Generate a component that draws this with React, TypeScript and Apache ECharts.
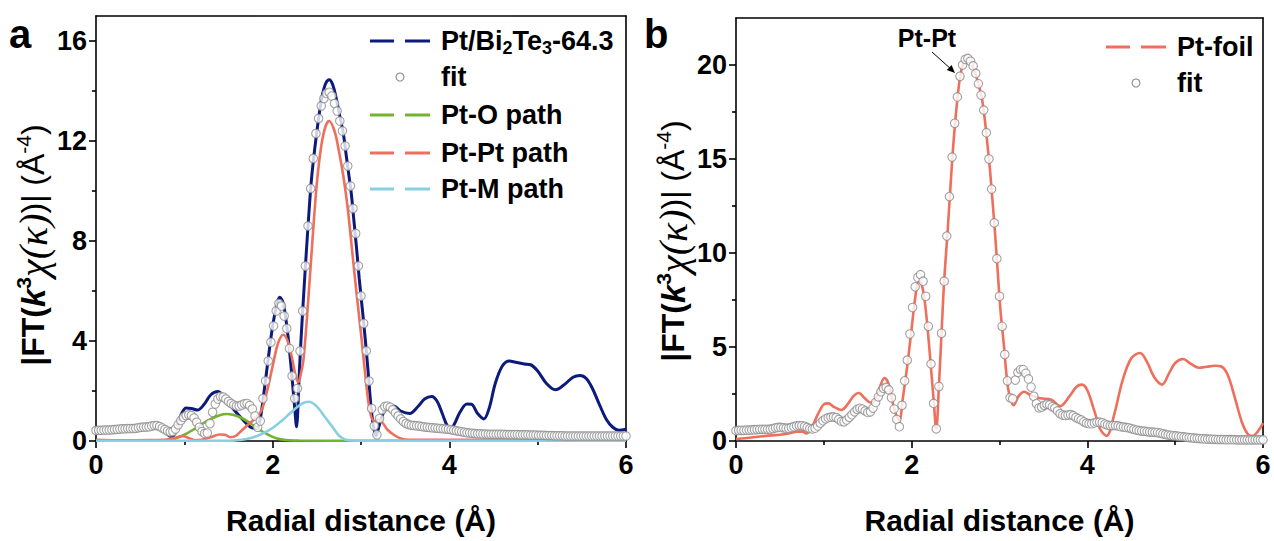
import { useEffect, useRef } from "react";
import * as echarts from "echarts";

// ---------- data ----------
const R_STEP = 0.03; // spacing of the fit points along R (Å)

// Panel a: fit points (one value per R_STEP, R = 0 … 6)
const fitA = [
  0.42, 0.43, 0.43, 0.44, 0.44, 0.44, 0.45, 0.46, 0.47, 0.48,
  0.49, 0.49, 0.5, 0.5, 0.5, 0.51, 0.53, 0.55, 0.56, 0.56,
  0.57, 0.6, 0.62, 0.62, 0.58, 0.52, 0.46, 0.4, 0.36, 0.38,
  0.48, 0.65, 0.82, 0.95, 1.02, 1.05, 1.02, 0.92, 0.75, 0.55,
  0.38, 0.3, 0.32, 0.7, 1.15, 1.48, 1.68, 1.78, 1.76, 1.68,
  1.58, 1.5, 1.44, 1.4, 1.4, 1.44, 1.49, 1.5, 1.42, 1.28,
  1.0, 0.55, 0.8, 1.7, 2.4, 3.2, 3.95, 4.6, 5.2, 5.5,
  5.4, 5.0, 4.5, 3.7, 2.6, 1.7, 2.1, 3.6, 5.2, 7.0,
  8.6, 10.1, 11.3, 12.3, 12.9, 13.4, 13.7, 13.9, 13.95, 13.8,
  13.5, 13.2, 12.8, 12.4, 11.8, 11.0, 10.2, 9.3, 8.3, 7.0,
  5.8, 4.7, 3.6, 2.4, 1.3, 0.6, 0.25, 0.9, 1.25, 1.38,
  1.4, 1.35, 1.25, 1.12, 1.0, 0.88, 0.78, 0.7, 0.66, 0.63,
  0.62, 0.61, 0.6, 0.58, 0.56, 0.55, 0.54, 0.53, 0.52, 0.51,
  0.5, 0.49, 0.48, 0.47, 0.45, 0.43, 0.41, 0.39, 0.37, 0.35,
  0.33, 0.32, 0.31, 0.3, 0.29, 0.29, 0.28, 0.28, 0.27, 0.27,
  0.27, 0.27, 0.27, 0.27, 0.27, 0.26, 0.26, 0.26, 0.26, 0.26,
  0.25, 0.25, 0.25, 0.25, 0.24, 0.24, 0.24, 0.23, 0.23, 0.23,
  0.22, 0.22, 0.22, 0.21, 0.21, 0.21, 0.21, 0.2, 0.2, 0.2,
  0.2, 0.2, 0.2, 0.2, 0.2, 0.2, 0.2, 0.2, 0.2, 0.2,
  0.2, 0.2, 0.2, 0.2, 0.2, 0.2, 0.2, 0.2, 0.2, 0.2,
  0.2,
];

// Panel b: fit points
const fitB = [
  0.55, 0.56, 0.57, 0.57, 0.58, 0.58, 0.59, 0.6, 0.61, 0.62,
  0.62, 0.62, 0.62, 0.63, 0.66, 0.7, 0.72, 0.72, 0.7, 0.68,
  0.68, 0.72, 0.76, 0.8, 0.82, 0.81, 0.78, 0.72, 0.66, 0.64,
  0.68, 0.8, 0.95, 1.08, 1.18, 1.24, 1.27, 1.28, 1.25, 1.15,
  1.04, 1.02, 1.12, 1.26, 1.4, 1.55, 1.68, 1.74, 1.7, 1.6,
  1.52, 1.55, 1.75, 2.05, 2.35, 2.62, 2.8, 2.85, 2.72, 2.3,
  1.7, 1.15, 0.76, 1.9, 3.2, 4.3, 5.69, 7.1, 8.2, 8.7,
  8.85, 8.5, 7.7, 6.1, 4.1, 2.0, 0.65, 2.9, 5.73, 8.5,
  10.9, 13.0, 15.1, 16.9, 18.3, 19.4, 20.0, 20.3, 20.35, 20.2,
  19.95, 19.55, 19.0, 18.4, 17.6, 16.4, 15.0, 13.4, 11.6, 9.7,
  7.7, 6.1, 4.6, 3.2, 2.3, 2.25, 3.24, 3.65, 3.8, 3.8,
  3.6, 3.3, 2.87, 2.38, 1.99, 1.76, 1.8, 1.9, 1.95, 1.92,
  1.82, 1.75, 1.6, 1.45, 1.38, 1.36, 1.38, 1.4, 1.35, 1.25,
  1.18, 1.12, 1.02, 0.95, 0.92, 0.92, 0.96, 1.0, 1.0, 0.97,
  0.9, 0.85, 0.82, 0.82, 0.82, 0.8, 0.76, 0.74, 0.72, 0.7,
  0.66, 0.62, 0.58, 0.55, 0.53, 0.52, 0.5, 0.48, 0.47, 0.46,
  0.45, 0.42, 0.38, 0.35, 0.32, 0.3, 0.28, 0.27, 0.25, 0.24,
  0.22, 0.2, 0.18, 0.17, 0.15, 0.14, 0.13, 0.12, 0.11, 0.1,
  0.1, 0.09, 0.09, 0.08, 0.08, 0.08, 0.07, 0.07, 0.07, 0.07,
  0.06, 0.06, 0.06, 0.06, 0.06, 0.06, 0.06, 0.06, 0.06, 0.06,
  0.06,
];

// Panel a: measured Pt/Bi2Te3-64.3 spectrum [R, |FT|]
const sampleA: [number, number][] = [
  [0, 0.45], [0.1, 0.45], [0.2, 0.45], [0.3, 0.5], [0.4, 0.5], [0.5, 0.55], [0.6, 0.65],
  [0.67, 0.7], [0.75, 0.5], [0.8, 0.3], [0.86, 0.15], [0.92, 0.6], [0.97, 1.1], [1.02, 1.32],
  [1.08, 1.3], [1.15, 1.24], [1.22, 1.45], [1.3, 1.85], [1.38, 1.98], [1.45, 1.75], [1.55, 1.3],
  [1.65, 0.9], [1.75, 0.55], [1.82, 0.5], [1.86, 0.9], [1.9, 1.9], [1.95, 3.3], [2.0, 4.6],
  [2.05, 5.5], [2.08, 5.75], [2.12, 5.5], [2.17, 4.3], [2.21, 2.9], [2.25, 1.3], [2.27, 0.57],
  [2.3, 2.6], [2.32, 4.0], [2.35, 5.8], [2.38, 7.5], [2.41, 9.1], [2.44, 10.5], [2.48, 11.8],
  [2.52, 12.9], [2.56, 13.8], [2.6, 14.3], [2.64, 14.45], [2.68, 14.25], [2.72, 13.7],
  [2.76, 13.0], [2.8, 12.3], [2.83, 11.5], [2.86, 10.7], [2.89, 9.9], [2.92, 8.8], [2.95, 7.7],
  [2.98, 6.5], [3.02, 5.1], [3.05, 4.0], [3.08, 2.8], [3.11, 1.5], [3.14, 0.6], [3.17, 0.2],
  [3.2, 0.55], [3.25, 1.1], [3.3, 1.35], [3.37, 1.4], [3.45, 1.2], [3.55, 1.1], [3.65, 1.4],
  [3.72, 1.68], [3.8, 1.78], [3.86, 1.6], [3.92, 1.1], [3.97, 0.65], [4.01, 0.45], [4.06, 0.7],
  [4.12, 1.15], [4.2, 1.48], [4.25, 1.47], [4.32, 1.1], [4.39, 0.88], [4.45, 1.3], [4.52, 2.3],
  [4.6, 3.0], [4.68, 3.2], [4.75, 3.15], [4.85, 3.08], [4.92, 3.05], [5.0, 2.8], [5.1, 2.3],
  [5.2, 2.05], [5.3, 2.25], [5.4, 2.55], [5.48, 2.62], [5.55, 2.5], [5.62, 2.1], [5.7, 1.45],
  [5.78, 0.85], [5.85, 0.55], [5.92, 0.43], [6.0, 0.47],
];

// Panel a: Pt-O path
const pathPtO: [number, number][] = [
  [0, 0.02], [0.8, 0.02], [0.9, 0.1], [1.0, 0.25], [1.1, 0.45], [1.2, 0.68], [1.3, 0.88],
  [1.4, 1.03], [1.48, 1.08], [1.56, 1.04], [1.65, 0.92], [1.75, 0.7], [1.85, 0.45], [1.95, 0.25],
  [2.05, 0.1], [2.15, 0.04], [2.3, 0.02], [3.0, 0.01], [6.0, 0.01],
];

// Panel a: Pt-Pt path
const pathPtPt: [number, number][] = [
  [0, 0.05], [0.3, 0.03], [0.6, 0.04], [0.8, 0.06], [0.88, 0.12], [0.98, 0.2], [1.05, 0.12],
  [1.12, 0.03], [1.2, 0.05], [1.3, 0.15], [1.4, 0.26], [1.46, 0.25], [1.52, 0.15], [1.58, 0.2],
  [1.65, 0.42], [1.72, 0.65], [1.8, 0.9], [1.87, 1.2], [1.93, 1.9], [2.0, 3.0], [2.06, 3.9],
  [2.12, 4.25], [2.17, 4.0], [2.22, 3.3], [2.26, 2.6], [2.29, 2.35], [2.32, 2.7], [2.35, 3.3],
  [2.4, 5.5], [2.45, 8.0], [2.5, 10.3], [2.55, 11.8], [2.6, 12.6], [2.64, 12.8], [2.7, 12.4],
  [2.75, 11.6], [2.8, 10.6], [2.85, 9.3], [2.9, 7.6], [2.95, 5.9], [3.0, 4.3], [3.05, 2.6],
  [3.1, 1.2], [3.15, 0.8], [3.2, 0.87], [3.25, 0.7], [3.3, 0.45], [3.37, 0.25], [3.45, 0.1],
  [3.55, 0.05], [6.0, 0.04],
];

// Panel a: Pt-M path
const pathPtM: [number, number][] = [
  [0, 0.01], [1.5, 0.01], [1.6, 0.03], [1.7, 0.08], [1.8, 0.17], [1.9, 0.32], [2.0, 0.52],
  [2.1, 0.8], [2.2, 1.12], [2.3, 1.42], [2.36, 1.54], [2.41, 1.57], [2.46, 1.5], [2.52, 1.3],
  [2.6, 0.92], [2.68, 0.55], [2.75, 0.22], [2.82, 0.06], [2.9, 0.02], [3.0, 0.01], [6.0, 0.01],
];

// Panel b: Pt-foil spectrum
const foilB: [number, number][] = [
  [0, 0.1], [0.1, 0.15], [0.2, 0.2], [0.3, 0.25], [0.4, 0.3], [0.5, 0.33], [0.6, 0.4],
  [0.7, 0.5], [0.76, 0.5], [0.8, 0.4], [0.86, 0.7], [0.93, 1.4], [1.0, 1.95], [1.05, 2.0],
  [1.12, 1.8], [1.2, 1.65], [1.27, 1.95], [1.34, 2.4], [1.4, 2.55], [1.46, 2.3], [1.53, 2.05],
  [1.58, 2.15], [1.64, 2.9], [1.69, 3.35], [1.74, 3.0], [1.79, 1.9], [1.83, 1.3], [1.86, 1.1],
  [1.9, 2.3], [1.95, 4.0], [2.0, 6.0], [2.04, 7.6], [2.08, 8.5], [2.11, 8.4], [2.15, 7.4],
  [2.2, 5.0], [2.25, 2.2], [2.28, 0.62], [2.31, 2.9], [2.34, 5.73], [2.37, 8.5], [2.41, 11.2],
  [2.44, 13.4], [2.47, 15.5], [2.5, 17.2], [2.53, 18.6], [2.56, 19.6], [2.6, 20.2], [2.64, 20.3],
  [2.68, 20.1], [2.72, 19.6], [2.76, 19.0], [2.8, 18.2], [2.83, 17.2], [2.86, 15.9], [2.89, 14.5],
  [2.92, 12.8], [2.95, 11.0], [2.98, 9.0], [3.01, 7.0], [3.05, 5.1], [3.08, 3.5], [3.11, 2.5],
  [3.16, 1.9], [3.22, 2.4], [3.28, 2.62], [3.35, 2.45], [3.46, 2.27], [3.59, 2.2], [3.69, 1.86],
  [3.8, 2.4], [3.88, 2.9], [3.94, 3.0], [4.0, 2.7], [4.08, 1.6], [4.15, 0.6], [4.22, 0.27],
  [4.3, 1.3], [4.4, 3.2], [4.5, 4.4], [4.6, 4.68], [4.68, 4.2], [4.76, 3.4], [4.85, 3.0],
  [4.93, 3.6], [5.0, 4.15], [5.09, 4.36], [5.18, 4.1], [5.27, 3.9], [5.36, 3.95], [5.45, 4.0],
  [5.53, 3.95], [5.6, 3.5], [5.68, 2.3], [5.76, 1.0], [5.83, 0.35], [5.88, 0.27], [5.94, 0.5],
  [6.0, 0.95],
];

// ticks
const xTicks = [0, 2, 4, 6];
const xMinor = [1, 3, 5];
const yTicksA = [0, 4, 8, 12, 16];
const yMinorA = [2, 6, 10, 14];
const yTicksB = [0, 5, 10, 15, 20];
const yMinorB = [2.5, 7.5, 12.5, 17.5];

// labels
const legendA = ["{n|Pt/Bi}{s|2}{n|Te}{s|3}{n|-64.3}", "fit", "Pt-O path", "Pt-Pt path", "Pt-M path"];
const legendB = ["Pt-foil", "fit"];
const xTitle = "Radial distance (Å)";
const yTitle = "{b||FT(}{bi|k}{sup|3}{m|χ(κ)}{n|)| (Å}{sup2|-4}{n|)}";

// ---------- styling ----------
const FONT = "'Liberation Sans', Arial, sans-serif";
const NAVY = "#0b1a7c";
const SALMON = "#ee6f5c";
const GREEN = "#74b32c";
const CYAN = "#88cfe2";
const CIRCLE = "#8a8a8a";

const fitPairs = (vals: number[]) =>
  vals.map((v, i) => [Math.round(i * R_STEP * 100) / 100, v]);

const labelStyle = { fontFamily: FONT, fontWeight: "bold", fontSize: 27, color: "#000" };
const black = { color: "#000", width: 1.6 };

function axes(grid: number, yMax: number, yTicks: number[], yMinor: number[], yInterval: number) {
  const xMain = {
    type: "value", gridIndex: grid, min: 0, max: 6, interval: 2,
    axisLine: { show: true, onZero: false, lineStyle: black },
    axisTick: { show: true, length: 7, lineStyle: black, customValues: xTicks },
    axisLabel: { ...labelStyle, margin: 10, customValues: xTicks },
    splitLine: { show: false },
    name: xTitle, nameLocation: "middle", nameGap: 64,
    nameTextStyle: { fontFamily: FONT, fontWeight: "bold", fontSize: 30, color: "#000" },
  };
  const xMin = {
    type: "value", gridIndex: grid, min: 0, max: 6, position: "bottom",
    axisLine: { show: false },
    axisTick: { show: true, length: 4, lineStyle: black, customValues: xMinor },
    axisLabel: { show: false }, splitLine: { show: false },
  };
  const xTop = {
    type: "value", gridIndex: grid, min: 0, max: 6, position: "top",
    axisLine: { show: true, onZero: false, lineStyle: black },
    axisTick: { show: false }, axisLabel: { show: false }, splitLine: { show: false },
  };
  const yMain = {
    type: "value", gridIndex: grid, min: 0, max: yMax, interval: yInterval,
    axisLine: { show: true, onZero: false, lineStyle: black },
    axisTick: { show: true, length: 7, lineStyle: black, customValues: yTicks },
    axisLabel: { ...labelStyle, margin: 9, customValues: yTicks },
    splitLine: { show: false },
  };
  const yMin = {
    type: "value", gridIndex: grid, min: 0, max: yMax, position: "left",
    axisLine: { show: false },
    axisTick: { show: true, length: 4, lineStyle: black, customValues: yMinor },
    axisLabel: { show: false }, splitLine: { show: false },
  };
  const yRight = {
    type: "value", gridIndex: grid, min: 0, max: yMax, position: "right",
    axisLine: { show: true, onZero: false, lineStyle: black },
    axisTick: { show: false }, axisLabel: { show: false }, splitLine: { show: false },
  };
  return { x: [xMain, xMin, xTop], y: [yMain, yMin, yRight] };
}

const lineSeries = (name: string, data: any, color: string, xi: number, yi: number, width = 2.6, z = 2) => ({
  name, type: "line", data, xAxisIndex: xi, yAxisIndex: yi, smooth: 0.35,
  showSymbol: false, symbol: "none", lineStyle: { color, width }, itemStyle: { color }, z,
});

const scatterSeries = (name: string, data: any, xi: number, yi: number) => ({
  name, type: "scatter", data, xAxisIndex: xi, yAxisIndex: yi, symbol: "circle", symbolSize: 8.5,
  itemStyle: { color: "#fff", borderColor: CIRCLE, borderWidth: 1.1 }, z: 5,
});

const legendRich = {
  n: { fontFamily: FONT, fontWeight: "bold", fontSize: 27, color: "#000", lineHeight: 32 },
  s: { fontFamily: FONT, fontWeight: "bold", fontSize: 18, color: "#000", lineHeight: 18, verticalAlign: "bottom" },
};

function legendItem(x: number, y: number, label: string, kind: "line" | "dot", color: string) {
  const els: any[] = [];
  if (kind === "line") {
    els.push({ type: "line", shape: { x1: x, y1: y, x2: x + 24, y2: y }, style: { stroke: color, lineWidth: 3 } });
    els.push({ type: "line", shape: { x1: x + 35, y1: y, x2: x + 60, y2: y }, style: { stroke: color, lineWidth: 3 } });
  } else {
    els.push({ type: "circle", shape: { cx: x + 30, cy: y, r: 4 }, style: { fill: "#fff", stroke: CIRCLE, lineWidth: 1.1 } });
  }
  const text = label.startsWith("{") ? label : `{n|${label}}`;
  els.push({
    type: "text", x: x + 71, y,
    style: { text, rich: legendRich, align: "left", verticalAlign: "middle" },
  });
  return els;
}

const yTitleRich = {
  b: { fontFamily: FONT, fontWeight: "bold", fontSize: 32, color: "#000", lineHeight: 40 },
  bi: { fontFamily: FONT, fontWeight: "bold", fontStyle: "italic", fontSize: 33, color: "#000", lineHeight: 40 },
  sup: { fontFamily: FONT, fontWeight: "bold", fontSize: 21, color: "#000", lineHeight: 21, verticalAlign: "top" },
  sup2: { fontFamily: FONT, fontSize: 21, color: "#000", lineHeight: 21, verticalAlign: "top" },
  m: { fontFamily: "'Liberation Serif', serif", fontStyle: "italic", fontSize: 40, color: "#000", lineHeight: 40 },
  n: { fontFamily: FONT, fontSize: 32, color: "#000", lineHeight: 40 },
};

export default function App() {
  const ref = useRef<HTMLDivElement>(null);

  useEffect(() => {
    if (!ref.current) return;
    const chart = echarts.init(ref.current, undefined, { renderer: "svg" });

    const a = axes(0, 17, yTicksA, yMinorA, 4);
    const b = axes(1, 22.5, yTicksB, yMinorB, 5);

    const arrowTip = [955, 73];
    const graphic: any[] = [
      { type: "text", x: 9, y: 34, style: { text: "a", fontFamily: FONT, fontWeight: "bold", fontSize: 40, fill: "#000", align: "left", verticalAlign: "middle" } },
      { type: "text", x: 644, y: 34, style: { text: "b", fontFamily: FONT, fontWeight: "bold", fontSize: 40, fill: "#000", align: "left", verticalAlign: "middle" } },
      { type: "text", x: 33, y: 245, rotation: Math.PI / 2, style: { text: yTitle, rich: yTitleRich, align: "center", verticalAlign: "middle" } },
      { type: "text", x: 673, y: 241, rotation: Math.PI / 2, style: { text: yTitle, rich: yTitleRich, align: "center", verticalAlign: "middle" } },
      { type: "text", x: 927, y: 38, style: { text: "Pt-Pt", fontFamily: FONT, fontWeight: "bold", fontSize: 25, fill: "#000", align: "center", verticalAlign: "middle" } },
      { type: "line", shape: { x1: 932, y1: 52, x2: arrowTip[0] - 3, y2: arrowTip[1] - 3 }, style: { stroke: "#000", lineWidth: 1 } },
      { type: "polygon", shape: { points: [[arrowTip[0], arrowTip[1]], [946.8, 70.0], [951.6, 65.0]] }, style: { fill: "#000" } },
      ...legendItem(370, 41, legendA[0], "line", NAVY),
      ...legendItem(370, 77, legendA[1], "dot", CIRCLE),
      ...legendItem(370, 115, legendA[2], "line", GREEN),
      ...legendItem(370, 153, legendA[3], "line", SALMON),
      ...legendItem(370, 189, legendA[4], "line", CYAN),
      ...legendItem(1106, 47, legendB[0], "line", SALMON),
      ...legendItem(1106, 83, legendB[1], "dot", CIRCLE),
    ];

    chart.setOption({
      animation: false,
      backgroundColor: "#fff",
      grid: [
        { left: 96, top: 16, width: 530, height: 425, containLabel: false, outerBoundsMode: "none" },
        { left: 736, top: 18, width: 527, height: 423, containLabel: false, outerBoundsMode: "none" },
      ],
      xAxis: [...a.x, ...b.x],
      yAxis: [...a.y, ...b.y],
      series: [
        lineSeries("Pt/Bi2Te3-64.3", sampleA, NAVY, 0, 0, 3, 2),
        lineSeries("Pt-O path", pathPtO, GREEN, 0, 0, 2.6, 3),
        lineSeries("Pt-Pt path", pathPtPt, SALMON, 0, 0, 2.6, 3),
        lineSeries("Pt-M path", pathPtM, CYAN, 0, 0, 2.6, 3),
        scatterSeries("fit", fitPairs(fitA), 0, 0),
        lineSeries("Pt-foil", foilB, SALMON, 3, 3, 2.6, 2),
        scatterSeries("fit ", fitPairs(fitB), 3, 3),
      ],
      graphic,
    });

    return () => chart.dispose();
  }, []);

  return (
    <div
      ref={ref}
      style={{ position: "fixed", left: 0, top: 0, width: 1274, height: 541, background: "#fff" }}
    />
  );
}
